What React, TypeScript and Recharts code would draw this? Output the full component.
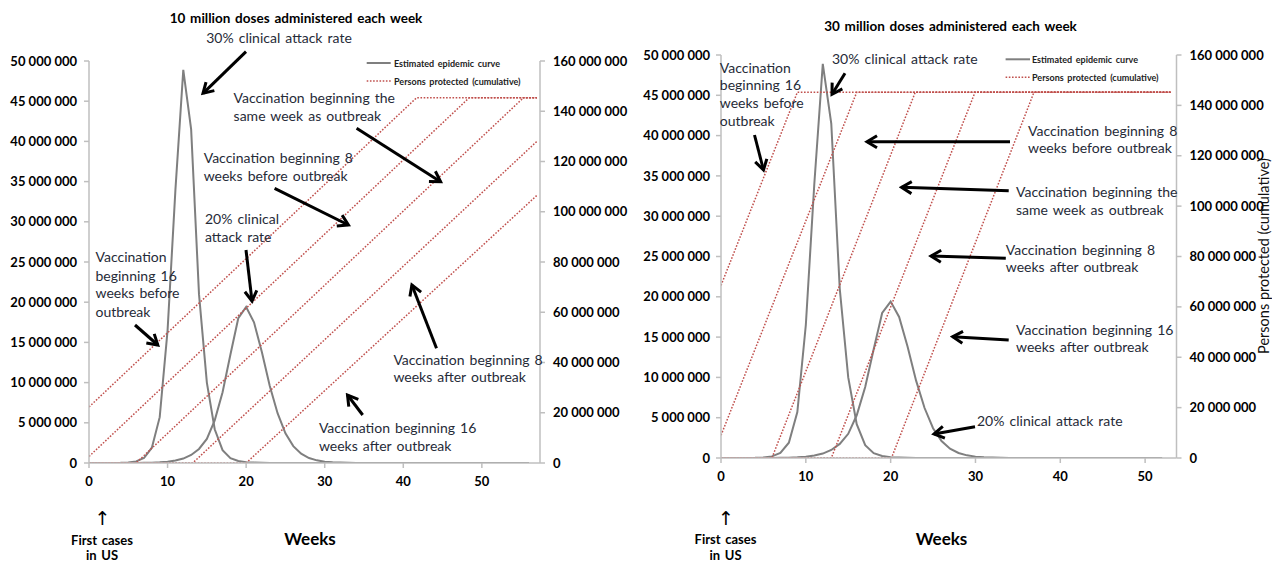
import React from 'react';
import { LineChart, Line, XAxis, YAxis } from 'recharts';

// ---- data (millions) ----
const weeks = [0,1,2,3,4,5,6,7,8,9,10,11,12,13,14,15,16,17,18,19,20,21,22,23,24,25,26,27,28,29,30,31,32,33,34,35,36,37,38,39,40,41,42,43,44,45,46,47,48,49,50,51,52,53,54,55,56];
const epidemic30 = [0,0,0,0.01,0.02,0.06,0.2,0.62,1.9,5.7,16.5,34,48.9,41.5,21,10,4.2,1.6,0.6,0.25,0.1,0.05,0.02,0,0,0,0,0,0,0,0,0,0,0,0,0,0,0,0,0,0,0,0,0,0,0,0,0,0,0,0,0,0,0,0,0,0];
const epidemic20 = [0,0,0,0,0,0,0.01,0.02,0.04,0.08,0.15,0.3,0.55,1.0,1.75,3.0,5.3,8.8,13.5,18.0,19.4,17.5,13.8,9.6,6.2,3.7,2.1,1.15,0.62,0.33,0.17,0.09,0.05,0.02,0.01,0,0,0,0,0,0,0,0,0,0,0,0,0,0,0,0,0,0,0,0,0,0];

// 10 million doses / week panel: persons protected (cumulative), key points
const l16BeforeWeeks = [0, 41.7, 57];
const l16BeforeValues = [22.3, 145.4, 145.4];
const l8BeforeWeeks = [0, 48.4, 57];
const l8BeforeValues = [2.6, 145.4, 145.4];
const lSameWeeks = [0, 6.0, 55.3, 57];
const lSameValues = [0, 0, 145.4, 145.4];
const l8AfterWeeks = [0, 13.2, 57];
const l8AfterValues = [0, 0, 128];
const l16AfterWeeks = [0, 20.0, 57];
const l16AfterValues = [0, 0, 106.5];

// 30 million doses / week panel
const r16BeforeWeeks = [0, 9.0, 53];
const r16BeforeValues = [68.5, 145.2, 145.2];
const r8BeforeWeeks = [0, 16.0, 53];
const r8BeforeValues = [9.0, 145.2, 145.2];
const rSameWeeks = [0, 6.0, 22.9, 53];
const rSameValues = [0, 0, 145.2, 145.2];
const r8AfterWeeks = [0, 13.0, 29.95, 53];
const r8AfterValues = [0, 0, 145.2, 145.2];
const r16AfterWeeks = [0, 20.1, 36.9, 53];
const r16AfterValues = [0, 0, 145.2, 145.2];

const xTicks = [0, 10, 20, 30, 40, 50];
const leftTicks = [0, 5e6, 10e6, 15e6, 20e6, 25e6, 30e6, 35e6, 40e6, 45e6, 50e6];
const rightTicks = [0, 20e6, 40e6, 60e6, 80e6, 100e6, 120e6, 140e6, 160e6];

const toSeries = (ws: number[], vs: number[]) => ws.map((w, i) => ({ w, v: vs[i] * 1e6 }));
const epiSeries = (vs: number[], lastWeek: number) =>
  weeks.filter((w) => w <= lastWeek).map((w) => ({ w, v: vs[w] * 1e6 }));

const fmt = (v: number) => String(Math.round(v)).replace(/\B(?=(\d{3})+(?!\d))/g, ' ');

const FONT = 'Lato, "Liberation Sans", Arial, sans-serif';
const RED = '#C0504D';
const GRAY = '#7F7F7F';
const AXIS = '#BFBFBF';
const ANN = '#262B38';

const tickStyle = { fill: '#000', fontSize: 13, fontWeight: 700, fontFamily: FONT };

type PanelProps = {
  left: number;
  width: number;
  margin: { top: number; right: number; bottom: number; left: number };
  leftW: number;
  rightW: number;
  xMax: number;
  lastEpiWeek: number;
  prot: { w: number; v: number }[][];
  yLeftMargin: number;
};

function Panel(p: PanelProps) {
  return (
    <div style={{ position: 'absolute', left: p.left, top: 0 }}>
      <LineChart width={p.width} height={563} margin={p.margin}>
        <XAxis
          dataKey="w"
          type="number"
          domain={[0, p.xMax]}
          ticks={xTicks}
          allowDataOverflow
          stroke={AXIS}
          strokeWidth={1.5}
          tick={tickStyle}
          tickSize={5}
          tickMargin={9}
          height={30}
          interval={0}
        />
        <YAxis
          yAxisId="left"
          domain={[0, 50e6]}
          ticks={leftTicks}
          tickFormatter={fmt}
          width={p.leftW}
          tickSize={5}
          tickMargin={p.yLeftMargin}
          stroke={AXIS}
          strokeWidth={1.5}
          tick={tickStyle}
          interval={0}
          allowDataOverflow
        />
        <YAxis
          yAxisId="right"
          orientation="right"
          domain={[0, 160e6]}
          ticks={rightTicks}
          tickFormatter={fmt}
          width={p.rightW}
          tickSize={5}
          tickMargin={8}
          stroke={AXIS}
          strokeWidth={1.5}
          tick={tickStyle}
          interval={0}
          allowDataOverflow
        />
        <Line yAxisId="left" data={epiSeries(epidemic30, p.lastEpiWeek)} dataKey="v" type="linear" stroke={GRAY} strokeWidth={2} dot={false} isAnimationActive={false} />
        <Line yAxisId="left" data={epiSeries(epidemic20, p.lastEpiWeek)} dataKey="v" type="linear" stroke={GRAY} strokeWidth={2} dot={false} isAnimationActive={false} />
        {p.prot.map((d, i) => (
          <Line key={i} yAxisId="right" data={d} dataKey="v" type="linear" stroke={RED} strokeWidth={1.5} strokeDasharray="1.6 1.6" dot={false} isAnimationActive={false} />
        ))}
      </LineChart>
    </div>
  );
}

type T = { x: number; y: number; s: string; size?: number; bold?: boolean; anchor?: 'start' | 'middle' | 'end'; color?: string };
const T = ({ x, y, s, size = 14, bold = false, anchor = 'start', color = ANN }: T) => (
  <text x={x} y={y} fontSize={size} fontWeight={bold ? 700 : 400} fontFamily={FONT} fill={color} textAnchor={anchor} dominantBaseline="central" wordSpacing={1.5}>
    {s}
  </text>
);
const A = ({ x1, y1, x2, y2 }: { x1: number; y1: number; x2: number; y2: number }) => (
  <line x1={x1} y1={y1} x2={x2} y2={y2} stroke="#000" strokeWidth={3} markerEnd="url(#ah)" />
);

function Overlay() {
  return (
    <svg width={1272} height={563} style={{ position: 'absolute', left: 0, top: 0, pointerEvents: 'none' }}>
      <defs>
        <marker id="ah" markerUnits="userSpaceOnUse" markerWidth={16} markerHeight={16} viewBox="0 0 16 16" refX={13} refY={8} orient="auto">
          <path d="M3,2 L13,8 L3,14" fill="none" stroke="#000" strokeWidth={3} strokeLinejoin="miter" />
        </marker>
      </defs>

      {/* Left panel */}
      <T x={296} y={18.3} s="10 million doses administered each week" size={13.5} bold anchor="middle" color="#000" />
      <T x={279} y={37.7} s="30% clinical attack rate" anchor="middle" />
      <A x1={246} y1={51.7} x2={203} y2={93.3} />
      <T x={233.6} y={97.3} s="Vaccination beginning the" />
      <T x={233.6} y={115.7} s="same week as outbreak" />
      <A x1={356.6} y1={128.3} x2={440.6} y2={181.7} />
      <T x={203.7} y={157.3} s="Vaccination beginning 8" />
      <T x={203.7} y={175.7} s="weeks before outbreak" />
      <A x1={274.6} y1={188.3} x2={348.4} y2={225} />
      <T x={205} y={218.3} s="20% clinical" />
      <T x={205} y={236.7} s="attack rate" />
      <A x1={246} y1={250} x2={252} y2={301} />
      <T x={95.5} y={256.7} s="Vaccination" />
      <T x={95.5} y={275} s="beginning 16" />
      <T x={95.5} y={292.7} s="weeks before" />
      <T x={95.5} y={311} s="outbreak" />
      <A x1={135} y1={325} x2={157.8} y2={345} />
      <T x={393.4} y={359} s="Vaccination beginning 8" />
      <T x={393.4} y={376.7} s="weeks after outbreak" />
      <A x1={436.5} y1={348.3} x2={411.9} y2={285} />
      <T x={318.9} y={427.7} s="Vaccination beginning 16" />
      <T x={318.9} y={445.7} s="weeks after outbreak" />
      <A x1={362.7} y1={415} x2={347.5} y2={395} />
      <text x={102.5} y={518} fontSize={19} fontFamily='"DejaVu Sans", sans-serif' textAnchor="middle" dominantBaseline="central" fill="#000">↑</text>
      <T x={102} y={539.5} s="First cases" size={13} bold anchor="middle" color="#000" />
      <T x={102} y={554.5} s="in US" size={13} bold anchor="middle" color="#000" />
      <T x={310} y={538} s="Weeks" size={17} bold anchor="middle" color="#000" />
      <line x1={366.7} y1={63} x2={390.7} y2={63} stroke={GRAY} strokeWidth={2} />
      <T x={394} y={63} s="Estimated epidemic curve" size={9} bold color="#222" />
      <line x1={366.7} y1={81} x2={390.7} y2={81} stroke={RED} strokeWidth={1.5} strokeDasharray="1.6 1.6" />
      <T x={394} y={81} s="Persons protected (cumulative)" size={9} bold color="#222" />

      {/* Right panel */}
      <T x={950.5} y={26} s="30 million doses administered each week" size={13.5} bold anchor="middle" color="#000" />
      <T x={832} y={58.3} s="30% clinical attack rate" />
      <A x1={845} y1={73.3} x2={832} y2={94.3} />
      <T x={719.8} y={67.7} s="Vaccination" />
      <T x={719.8} y={84.3} s="beginning 16" />
      <T x={719.8} y={102.7} s="weeks before" />
      <T x={719.8} y={120} s="outbreak" />
      <A x1={754.5} y1={135} x2={763.5} y2={170} />
      <T x={1028} y={130.7} s="Vaccination beginning 8" />
      <T x={1028} y={147.7} s="weeks before outbreak" />
      <A x1={1010} y1={141.7} x2={867} y2={141.7} />
      <T x={1016} y={191.7} s="Vaccination beginning the" />
      <T x={1016} y={209} s="same week as outbreak" />
      <A x1={1008.7} y1={190.7} x2={901.6} y2={187.3} />
      <T x={1005.8} y={249.3} s="Vaccination beginning 8" />
      <T x={1005.8} y={266.7} s="weeks after outbreak" />
      <A x1={1005.8} y1={258.3} x2={931} y2={256} />
      <T x={1016} y={329} s="Vaccination beginning 16" />
      <T x={1016} y={346.7} s="weeks after outbreak" />
      <A x1={1008.7} y1={340} x2={952.7} y2={336.7} />
      <T x={977} y={420} s="20% clinical attack rate" />
      <A x1={975} y1={426.7} x2={934} y2={434} />
      <text x={726} y={518} fontSize={19} fontFamily='"DejaVu Sans", sans-serif' textAnchor="middle" dominantBaseline="central" fill="#000">↑</text>
      <T x={725.5} y={539} s="First cases" size={13} bold anchor="middle" color="#000" />
      <T x={725.5} y={554.5} s="in US" size={13} bold anchor="middle" color="#000" />
      <T x={941.5} y={538.3} s="Weeks" size={17} bold anchor="middle" color="#000" />
      <text x={1263} y={256} fontSize={14.5} fontFamily={FONT} fill="#111" textAnchor="middle" dominantBaseline="central" transform="rotate(-90 1263 256)">
        Persons protected (cumulative)
      </text>
      <line x1={1005.6} y1={59.3} x2={1030} y2={59.3} stroke={GRAY} strokeWidth={2} />
      <T x={1032} y={59.3} s="Estimated epidemic curve" size={9} bold color="#222" />
      <line x1={1005.6} y1={77.3} x2={1030} y2={77.3} stroke={RED} strokeWidth={1.5} strokeDasharray="1.6 1.6" />
      <T x={1032} y={77.3} s="Persons protected (cumulative)" size={9} bold color="#222" />
    </svg>
  );
}

export default function App() {
  const leftProt = [
    toSeries(l16BeforeWeeks, l16BeforeValues),
    toSeries(l8BeforeWeeks, l8BeforeValues),
    toSeries(lSameWeeks, lSameValues),
    toSeries(l8AfterWeeks, l8AfterValues),
    toSeries(l16AfterWeeks, l16AfterValues),
  ];
  const rightProt = [
    toSeries(r16BeforeWeeks, r16BeforeValues),
    toSeries(r8BeforeWeeks, r8BeforeValues),
    toSeries(rSameWeeks, rSameValues),
    toSeries(r8AfterWeeks, r8AfterValues),
    toSeries(r16AfterWeeks, r16AfterValues),
  ];
  return (
    <div style={{ position: 'absolute', left: 0, top: 0, width: 1272, height: 563, background: '#fff', overflow: 'hidden' }}>
      <Panel
        left={0}
        width={640}
        margin={{ top: 61, right: 5, bottom: 70, left: 0 }}
        leftW={89}
        rightW={95}
        xMax={57.4}
        lastEpiWeek={56}
        prot={leftProt}
        yLeftMargin={7}
      />
      <Panel
        left={636}
        width={636}
        margin={{ top: 55, right: 5.5, bottom: 75, left: 0 }}
        leftW={85}
        rightW={90}
        xMax={53.7}
        lastEpiWeek={52}
        prot={rightProt}
        yLeftMargin={6}
      />
      <Overlay />
    </div>
  );
}
